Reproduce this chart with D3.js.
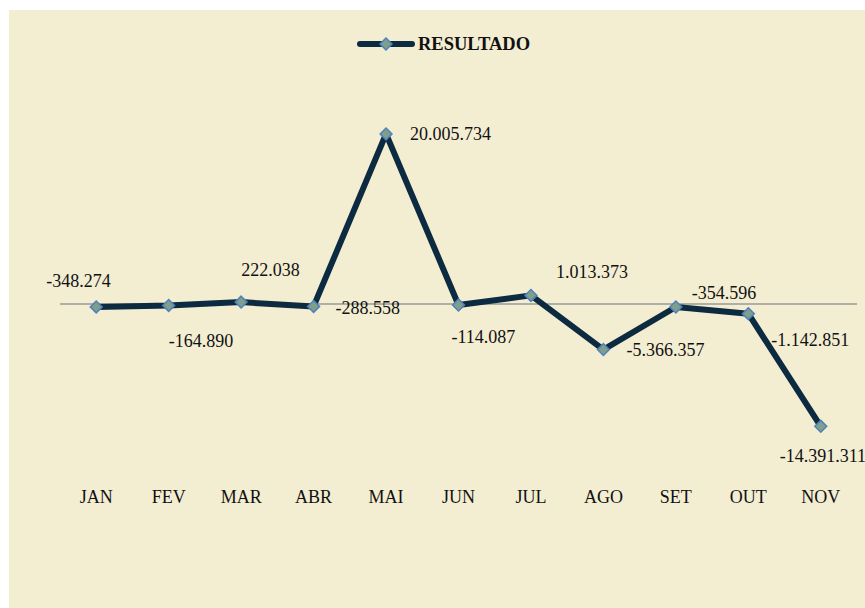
<!DOCTYPE html>
<html>
<head>
<meta charset="utf-8">
<script src="https://cdn.jsdelivr.net/npm/d3@7"></script>
<style>
  body { margin: 0; background: #ffffff; }
  svg text { font-family: "Liberation Serif", "Times New Roman", serif; fill: #111; }
</style>
</head>
<body>
<div id="chart"></div>
<script>
// data
var months = ["JAN", "FEV", "MAR", "ABR", "MAI", "JUN", "JUL", "AGO", "SET", "OUT", "NOV"];
var resultado = [-348274, -164890, 222038, -288558, 20005734, -114087, 1013373, -5366357, -354596, -1142851, -14391311];
var labels = ["-348.274", "-164.890", "222.038", "-288.558", "20.005.734", "-114.087", "1.013.373", "-5.366.357", "-354.596", "-1.142.851", "-14.391.311"];

// where each data label sits, relative to its point
var labelDx = [-50, 0, 0, 22, 24, -7, 25, 23, 16, 23, -41];
var labelDy = [-20, 42, -26, 8, 6, 38, -17, 6, -8, 32, 36];

var w = 865, h = 608;

var svg = d3.select("#chart").append("svg")
  .attr("width", w)
  .attr("height", h);

// background panel
svg.append("rect")
  .attr("x", 9).attr("y", 10)
  .attr("width", w - 9).attr("height", h - 10)
  .style("fill", "#f3edd1");

var x = d3.scaleBand()
  .domain(months)
  .range([60, 857]);

var y = d3.scaleLinear()
  .domain([-20000000, 25000000])
  .range([474, 91.5]);

// zero line
svg.append("line")
  .attr("x1", 60).attr("x2", 857)
  .attr("y1", y(0)).attr("y2", y(0))
  .style("stroke", "#9a9a96")
  .style("stroke-width", 1.5);

// month labels
svg.append("g")
  .selectAll("text")
  .data(months)
  .join("text")
  .attr("x", d => x(d) + x.bandwidth() / 2)
  .attr("y", 503)
  .attr("text-anchor", "middle")
  .attr("font-size", "18px")
  .text(d => d);

var line = d3.line()
  .x((d, i) => x(months[i]) + x.bandwidth() / 2)
  .y(d => y(d));

svg.append("path")
  .datum(resultado)
  .attr("d", line)
  .style("fill", "none")
  .style("stroke", "#0c2a40")
  .style("stroke-width", 6)
  .style("stroke-linejoin", "round");

var diamond = d3.symbol().type(d3.symbolDiamond2).size(90);

svg.append("g")
  .selectAll("path")
  .data(resultado)
  .join("path")
  .attr("d", diamond)
  .attr("transform", (d, i) => "translate(" + (x(months[i]) + x.bandwidth() / 2) + "," + y(d) + ")")
  .style("fill", "#7f9f8a")
  .style("stroke", "#4f81bd")
  .style("stroke-width", 1.5);

// data labels
svg.append("g")
  .selectAll("text")
  .data(resultado)
  .join("text")
  .attr("x", (d, i) => x(months[i]) + x.bandwidth() / 2 + labelDx[i])
  .attr("y", (d, i) => y(d) + labelDy[i])
  .attr("font-size", "18px")
  .text((d, i) => labels[i]);

// legend
var lg = svg.append("g");
lg.append("line")
  .attr("x1", 360).attr("x2", 412)
  .attr("y1", 44).attr("y2", 44)
  .style("stroke", "#0c2a40")
  .style("stroke-width", 6)
  .style("stroke-linecap", "round");
lg.append("path")
  .attr("d", diamond)
  .attr("transform", "translate(386,44)")
  .style("fill", "#7f9f8a")
  .style("stroke", "#4f81bd")
  .style("stroke-width", 1.5);
lg.append("text")
  .attr("x", 418).attr("y", 50)
  .attr("font-size", "18.5px")
  .attr("font-weight", "bold")
  .text("RESULTADO");
</script>
</body>
</html>
